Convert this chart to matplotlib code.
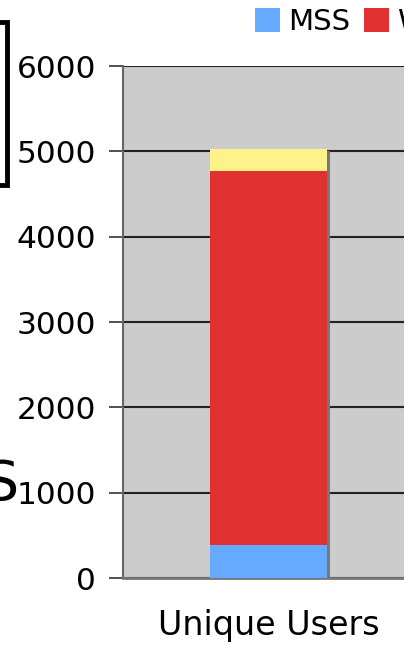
import matplotlib.pyplot as plt
import matplotlib.patheffects as pe
from matplotlib.patches import Rectangle

categories = ['Unique Users']
mss = [390]
w_series = [4380]
other = [257]
series_names = ['MSS', 'W', 'Other']
colors = ['#66aaff', '#e03030', '#fff28a']
yticks = [0, 1000, 2000, 3000, 4000, 5000, 6000]

W, H = 404, 648
fig = plt.figure(figsize=(W / 100, H / 100), dpi=100)
plt.rcParams['font.family'] = ['DejaVu Sans']

ax = fig.add_axes([123 / W, (H - 578) / H, 291 / W, 512 / H])
ax.set_facecolor('#cccccc')

shadow = [pe.SimplePatchShadow(offset=(2.2, -1.5), shadow_rgbFace='#777777', alpha=1.0), pe.Normal()]
x = list(range(len(categories)))
bottom = [0] * len(categories)
for vals, name, c in zip([mss, w_series, other], series_names, colors):
    ax.bar(x, vals, bottom=bottom, width=0.4, color=c, label=name, zorder=3)
    bottom = [b + v for b, v in zip(bottom, vals)]

# shadow behind the whole stack
ax.bar(x, bottom, width=0.4, color='none', zorder=2.5, path_effects=shadow, edgecolor='none')

ax.set_xlim(-0.5, 0.5)
ax.set_ylim(0, 6000)
ax.set_yticks(yticks)
ax.set_xticks(x)
ax.set_xticklabels(categories, fontsize=24)
ax.tick_params(axis='x', length=0, pad=22)
ax.tick_params(axis='y', length=10, width=1.2, color='#333333', labelsize=22.5, pad=9.5)
ax.yaxis.grid(True, color='#222222', linewidth=1.5, zorder=1)
ax.set_axisbelow(True)
for s in ['top', 'right']:
    ax.spines[s].set_visible(False)
ax.spines['left'].set_color('#666666')
ax.spines['left'].set_linewidth(1.5)
ax.spines['bottom'].set_color('#777777')
ax.spines['bottom'].set_linewidth(2)

fig.legend(loc='upper left', bbox_to_anchor=(255 / W, 1 - 8 / H), ncol=3, frameon=False,
           fontsize=21, handlelength=0.85, handleheight=0.85, handletextpad=0.27,
           columnspacing=0.5, borderpad=0, borderaxespad=0)

fig.patches.append(Rectangle((-20 / W, (H - 185) / H), 27 / W, 163 / H, transform=fig.transFigure,
                             facecolor='white', edgecolor='black', linewidth=3.5))
fig.text(19 / W, (H - 485) / H, 'S', ha='right', va='center', fontsize=40)

fig.savefig('out.png', dpi=100)
